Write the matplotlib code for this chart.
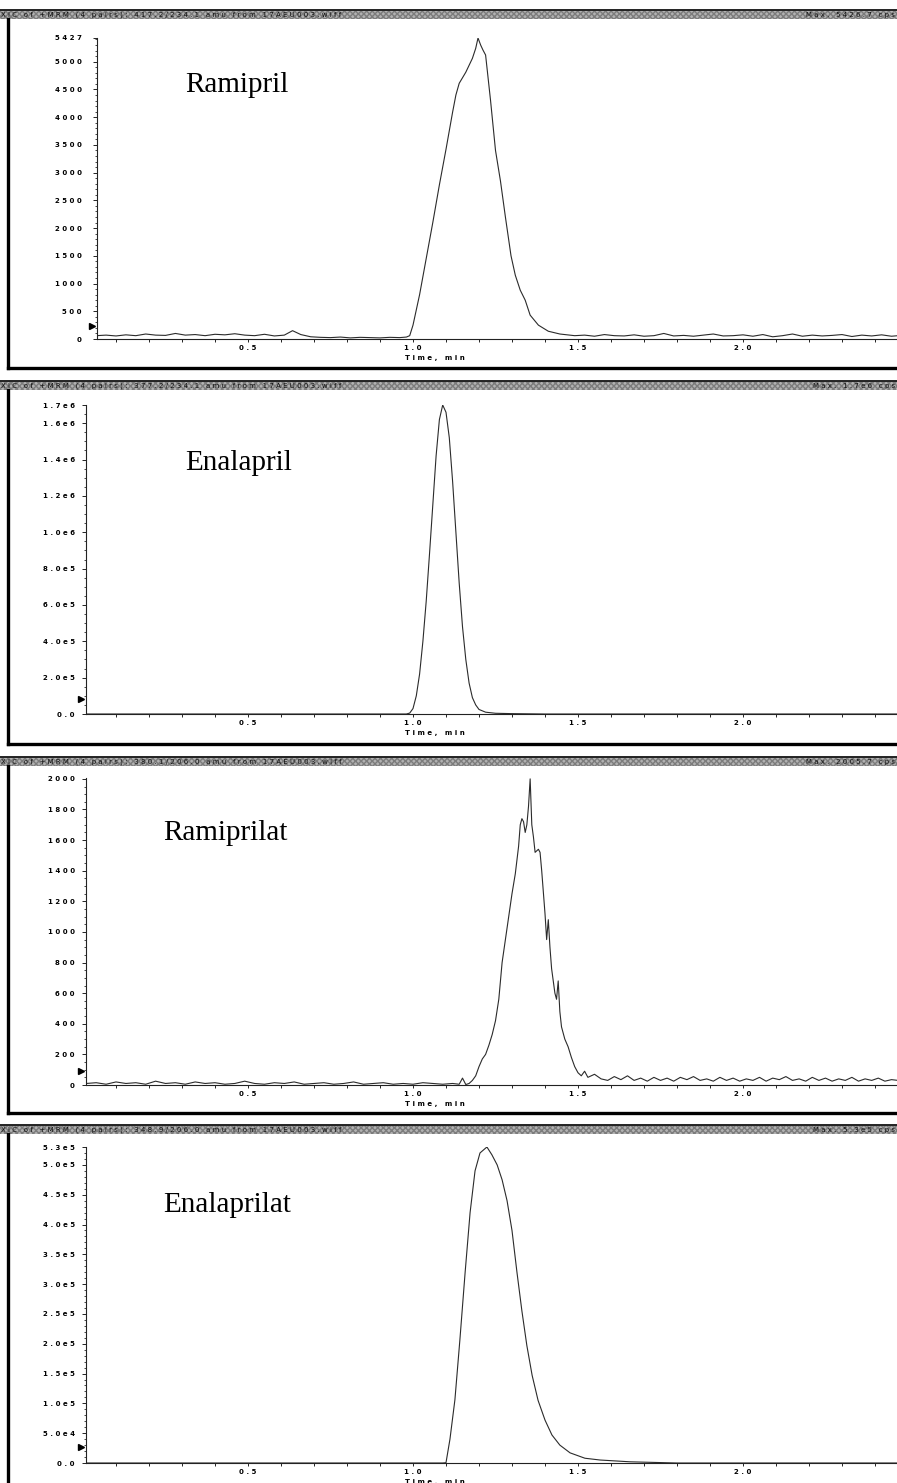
import matplotlib
matplotlib.use('Agg')
import matplotlib.pyplot as plt
from matplotlib.ticker import FixedLocator, MultipleLocator
from matplotlib.patches import Rectangle
from matplotlib.lines import Line2D

W, H = 897, 1483

# ---------------- data ----------------
names = ['Ramipril', 'Enalapril', 'Ramiprilat', 'Enalaprilat']
transitions = ['417.2/234.1', '377.2/234.1', '380.1/206.0', '348.9/206.0']
max_cps = ['5426.7', '1.7e6', '2005.7', '5.3e5']
ytops = [5427, 1.7e6, 2005.7, 5.3e5]
marker_levels = [240, 8.0e4, 90, 2.6e4]

ytick_vals = [
    [0, 500, 1000, 1500, 2000, 2500, 3000, 3500, 4000, 4500, 5000, 5427],
    [0, 2e5, 4e5, 6e5, 8e5, 1.0e6, 1.2e6, 1.4e6, 1.6e6, 1.7e6],
    [0, 200, 400, 600, 800, 1000, 1200, 1400, 1600, 1800, 2000],
    [0, 5e4, 1e5, 1.5e5, 2e5, 2.5e5, 3e5, 3.5e5, 4e5, 4.5e5, 5e5, 5.3e5],
]
ytick_labels = [
    ['0', '500', '1000', '1500', '2000', '2500', '3000', '3500', '4000', '4500', '5000', '5427'],
    ['0.0', '2.0e5', '4.0e5', '6.0e5', '8.0e5', '1.0e6', '1.2e6', '1.4e6', '1.6e6', '1.7e6'],
    ['0', '200', '400', '600', '800', '1000', '1200', '1400', '1600', '1800', '2000'],
    ['0.0', '5.0e4', '1.0e5', '1.5e5', '2.0e5', '2.5e5', '3.0e5', '3.5e5', '4.0e5', '4.5e5', '5.0e5', '5.3e5'],
]
yminor = [100, 5e4, 50, 1e4]
xtick_vals = [0.5, 1.0, 1.5, 2.0]
xtick_labels = ['0.5', '1.0', '1.5', '2.0']

# Ramipril trace
ram_t = [0.04, 0.07, 0.10, 0.13, 0.16, 0.19, 0.22, 0.25, 0.28, 0.31, 0.34, 0.37, 0.40,
         0.43, 0.46, 0.49, 0.52, 0.55, 0.58, 0.61, 0.635, 0.66, 0.69, 0.72, 0.75, 0.78,
         0.81, 0.84, 0.87, 0.90, 0.93, 0.96, 0.98,
         0.99, 1.00, 1.02, 1.04, 1.06, 1.08, 1.10, 1.12, 1.13, 1.14, 1.16, 1.18, 1.19,
         1.197, 1.205, 1.212, 1.22, 1.235, 1.25, 1.265, 1.28, 1.297, 1.31, 1.325, 1.34,
         1.355, 1.38, 1.41, 1.445, 1.49,
         1.52, 1.55, 1.58, 1.61, 1.64, 1.67, 1.70, 1.73, 1.76, 1.79, 1.82, 1.85, 1.88,
         1.91, 1.94, 1.97, 2.00, 2.03, 2.06, 2.09, 2.12, 2.15, 2.18, 2.21, 2.24, 2.27,
         2.30, 2.33, 2.36, 2.39, 2.42, 2.45, 2.47]
ram_i = [60, 70, 55, 75, 60, 90, 70, 65, 100, 70, 80, 60, 85,
         75, 95, 70, 60, 85, 55, 70, 150, 80, 40, 30, 25, 35,
         20, 30, 25, 20, 30, 25, 35,
         60, 250, 800, 1450, 2100, 2780, 3420, 4090, 4400, 4610, 4810, 5060, 5240,
         5427, 5300, 5210, 5120, 4300, 3400, 2850, 2200, 1500, 1150, 880, 700,
         430, 250, 140, 90, 60,
         70, 50, 80, 60, 55, 75, 50, 60, 100, 55, 65, 50, 70,
         90, 55, 60, 75, 50, 80, 40, 60, 90, 50, 70, 55, 65,
         80, 45, 70, 55, 75, 50, 60]

# Enalapril trace
ena_t = [0.01, 0.30, 0.60, 0.90, 0.98, 0.99, 1.00, 1.01, 1.02, 1.03, 1.04, 1.05, 1.06,
         1.07, 1.08, 1.09, 1.10, 1.11, 1.12, 1.13, 1.14, 1.15, 1.16, 1.17, 1.18, 1.19,
         1.20, 1.22, 1.25, 1.30, 1.40, 1.70, 2.00, 2.47]
ena_i = [0, 0, 0, 0, 0, 5e3, 3e4, 1.0e5, 2.2e5, 4.0e5, 6.2e5, 8.8e5, 1.15e6,
         1.42e6, 1.62e6, 1.70e6, 1.66e6, 1.52e6, 1.28e6, 1.0e6, 7.2e5, 4.8e5, 3.0e5, 1.7e5, 9e4, 5e4,
         2.5e4, 1e4, 4e3, 2e3, 0, 0, 0, 0]

# Ramiprilat trace
rat_t = [0.01, 0.04, 0.07, 0.10, 0.13, 0.16, 0.19, 0.22, 0.25, 0.28, 0.31, 0.34, 0.37,
         0.40, 0.43, 0.46, 0.49, 0.52, 0.55, 0.58, 0.61, 0.64, 0.67, 0.70, 0.73, 0.76,
         0.79, 0.82, 0.85, 0.88, 0.91, 0.94, 0.97, 1.00, 1.03, 1.06, 1.09, 1.12, 1.14,
         1.15, 1.16, 1.17,
         1.18, 1.19, 1.20, 1.21, 1.22, 1.23, 1.24, 1.25, 1.26, 1.27, 1.28, 1.29, 1.30,
         1.31, 1.32, 1.325, 1.33, 1.335, 1.34, 1.345, 1.35, 1.355, 1.36, 1.365, 1.37,
         1.38, 1.385, 1.39, 1.40, 1.405, 1.41, 1.415, 1.42, 1.43, 1.435, 1.44, 1.445,
         1.45, 1.46, 1.47, 1.48, 1.49, 1.50, 1.51, 1.52, 1.53,
         1.55, 1.57, 1.59, 1.61, 1.63, 1.65, 1.67, 1.69, 1.71, 1.73, 1.75, 1.77, 1.79,
         1.81, 1.83, 1.85, 1.87, 1.89, 1.91, 1.93, 1.95, 1.97, 1.99, 2.01, 2.03, 2.05,
         2.07, 2.09, 2.11, 2.13, 2.15, 2.17, 2.19, 2.21, 2.23, 2.25, 2.27, 2.29, 2.31,
         2.33, 2.35, 2.37, 2.39, 2.41, 2.43, 2.45, 2.47]
rat_i = [10, 15, 5, 20, 10, 15, 5, 25, 10, 15, 5, 20, 10,
         15, 5, 10, 25, 10, 5, 15, 10, 20, 5, 10, 15, 5,
         10, 20, 5, 10, 15, 5, 10, 5, 15, 10, 5, 10, 5,
         45, 3, 10,
         30, 60, 120, 170, 200, 260, 330, 420, 560, 800, 950, 1100, 1250,
         1380, 1560, 1700, 1740, 1720, 1650, 1700, 1820, 2000, 1700, 1620, 1520,
         1540, 1520, 1400, 1120, 950, 1080, 900, 760, 600, 560, 680, 480,
         380, 300, 250, 180, 120, 80, 60, 90, 50,
         70, 40, 30, 55, 35, 60, 30, 45, 25, 50, 30, 45, 25,
         50, 35, 55, 30, 40, 25, 50, 30, 45, 25, 40, 30, 50,
         25, 45, 35, 55, 30, 40, 25, 50, 30, 45, 25, 40, 30,
         50, 25, 40, 30, 45, 25, 35, 30]

# Enalaprilat trace
enat_t = [0.01, 0.30, 0.60, 0.90, 1.05, 1.09, 1.10, 1.112, 1.127, 1.142, 1.158, 1.173,
          1.188, 1.203, 1.224, 1.239, 1.255, 1.270, 1.285, 1.300, 1.315, 1.330, 1.345,
          1.361, 1.379, 1.400, 1.421, 1.445, 1.476, 1.521, 1.567, 1.658, 1.80, 2.00, 2.47]
enat_i = [0, 0, 0, 0, 0, 0, 5e2, 4.0e4, 1.06e5, 2.06e5, 3.2e5, 4.2e5,
          4.9e5, 5.2e5, 5.3e5, 5.17e5, 5.0e5, 4.75e5, 4.4e5, 3.9e5, 3.2e5, 2.55e5, 1.97e5,
          1.47e5, 1.05e5, 7.2e4, 4.7e4, 3.0e4, 1.7e4, 8e3, 5e3, 2e3, 0, 0, 0]

traces_t = [ram_t, ena_t, rat_t, enat_t]
traces_i = [ram_i, ena_i, rat_i, enat_i]

# ---------------- layout (pixels, top-down) ----------------
heads = [10, 381, 757, 1125]
tops = [38, 405, 778, 1147]
zeros = [339, 714, 1085, 1463]
bottoms = [368, 744, 1113, 1495]
lefts = [97, 86, 86, 86]
name_pos = [(185, 85), (185, 463), (163, 833), (163, 1205)]
X05 = 248.0     # pixel of t = 0.5
PX_PER_MIN = 330.0


def spaced(s):
    return ' '.join(s)


fig = plt.figure(figsize=(W / 100, H / 100), dpi=100)
fig.patch.set_facecolor('white')

for k in range(4):
    head, top, zero, bottom, left = heads[k], tops[k], zeros[k], bottoms[k], lefts[k]

    # header bar
    fig.patches.append(Rectangle((0, 1 - (head + 9) / H), 1, 9 / H, transform=fig.transFigure,
                                 facecolor='#b2b2b2', edgecolor='#7c7c7c', lw=0,
                                 hatch='xxxxxx', zorder=1))
    fig.lines.append(Line2D([0, 1], [1 - head / H, 1 - head / H], transform=fig.transFigure,
                            color='#222222', lw=1.4))
    fig.text(1 / W, 1 - (head + 5) / H,
             spaced('XIC of +MRM (4 pairs): %s amu from 17AEU003.wiff' % transitions[k]),
             fontsize=5.0, color='#111111', va='center', ha='left', zorder=3)
    fig.text(895 / W, 1 - (head + 5) / H, spaced('Max. %s cps' % max_cps[k]),
             fontsize=5.0, color='#111111', va='center', ha='right', zorder=3)

    # frame (left and bottom)
    fig.lines.append(Line2D([8 / W, 8 / W], [1 - (head + 9) / H, 1 - bottom / H],
                            transform=fig.transFigure, color='black', lw=2.4))
    fig.lines.append(Line2D([8 / W, 1], [1 - bottom / H, 1 - bottom / H],
                            transform=fig.transFigure, color='black', lw=2.4))

    ax = fig.add_axes([left / W, 1 - zero / H, (W - left) / W, (zero - top) / H])
    ax.plot(traces_t[k], traces_i[k], color='#2b2b2b', lw=0.8)
    ax.set_xlim(0.5 - (X05 - left) / PX_PER_MIN, 0.5 + (W - X05) / PX_PER_MIN)
    ax.set_ylim(0, ytops[k])

    for s in ['top', 'right']:
        ax.spines[s].set_visible(False)
    for s in ['left', 'bottom']:
        ax.spines[s].set_linewidth(0.8)
        ax.spines[s].set_color('#222222')

    ax.yaxis.set_major_locator(FixedLocator(ytick_vals[k]))
    ax.set_yticklabels([spaced(s) for s in ytick_labels[k]], fontsize=5.0, fontweight='bold')
    ax.yaxis.set_minor_locator(MultipleLocator(yminor[k]))
    ax.xaxis.set_major_locator(FixedLocator(xtick_vals))
    ax.set_xticklabels([spaced(s) for s in xtick_labels], fontsize=5.0, fontweight='bold')
    ax.xaxis.set_minor_locator(MultipleLocator(0.1))
    ax.tick_params(axis='y', which='major', length=3, width=0.6, pad=8 if k == 0 else 5)
    ax.tick_params(axis='y', which='minor', length=1.5, width=0.5)
    ax.tick_params(axis='x', which='both', length=2, width=0.6, pad=2)
    ax.patch.set_alpha(0)

    # baseline marker
    ax.plot([-0.006], [marker_levels[k]], marker='>', ms=4, color='black',
            transform=ax.get_yaxis_transform(), clip_on=False)

    fig.text(435 / W, 1 - (zero + 19) / H, spaced('Time, min'), fontsize=5.0, fontweight='bold',
             ha='center', va='center')

    fig.text(name_pos[k][0] / W, 1 - name_pos[k][1] / H, names[k], fontsize=21,
             family='Liberation Serif', ha='left', va='center')

fig.savefig('out.png', dpi=100)
